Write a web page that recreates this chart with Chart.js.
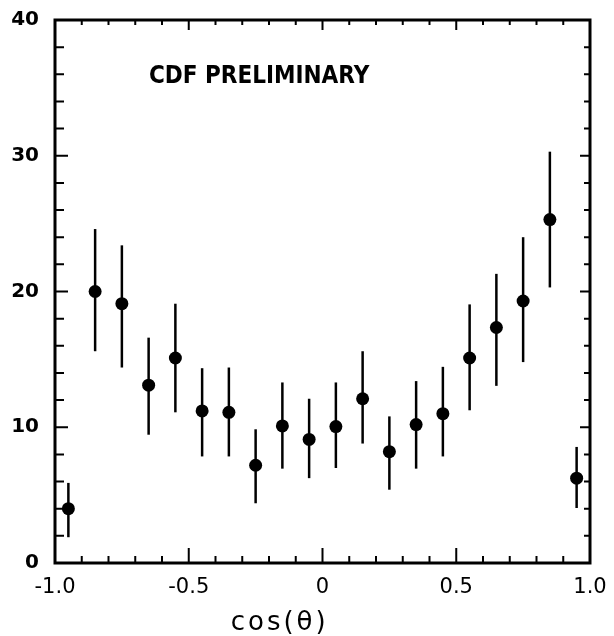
<!DOCTYPE html>
<html>
<head>
<meta charset="utf-8">
<title>CDF cos(theta)</title>
<script src="https://cdn.jsdelivr.net/npm/chart.js@4.4.0/dist/chart.umd.min.js"></script>
<style>
  body { margin: 0; background: #fff; }
  #canvas { display: block; }
</style>
</head>
<body>
<canvas id="canvas" width="614" height="636"></canvas>
<script>
// bin centres in cos(theta)
var binCenters = [-0.95, -0.85, -0.75, -0.65, -0.55, -0.45, -0.35, -0.25, -0.15, -0.05,
                  0.05, 0.15, 0.25, 0.35, 0.45, 0.55, 0.65, 0.75, 0.85, 0.95];
var counts  = [4.0, 20.0, 19.1, 13.1, 15.1, 11.2, 11.1, 7.2, 10.1, 9.1,
               10.05, 12.1, 8.2, 10.2, 11.0, 15.1, 17.35, 19.3, 25.3, 6.25];
var errLow  = [1.9, 15.6, 14.4, 9.45, 11.1, 7.85, 7.85, 4.4, 6.95, 6.25,
               7.0, 8.8, 5.4, 6.95, 7.85, 11.25, 13.05, 14.8, 20.3, 4.05];
var errHigh = [5.9, 24.6, 23.4, 16.6, 19.1, 14.35, 14.4, 9.85, 13.3, 12.1,
               13.3, 15.6, 10.8, 13.4, 14.45, 19.05, 21.3, 24.0, 30.3, 8.55];
var xTickLabels = {"-1": "-1.0", "-0.5": "-0.5", "0": "0", "0.5": "0.5", "1": "1.0"};

var points = binCenters.map(function (x, i) { return {x: x, y: counts[i]}; });

// error bars, inward ticks, frame and the text in the plot
var framePlugin = {
  id: 'frame',
  beforeDatasetsDraw: function (chart) {
    var ctx = chart.ctx, xs = chart.scales.x, ys = chart.scales.y;
    ctx.save();
    ctx.strokeStyle = '#000';
    ctx.lineWidth = 2.5;
    for (var i = 0; i < binCenters.length; i++) {
      var px = xs.getPixelForValue(binCenters[i]);
      ctx.beginPath();
      ctx.moveTo(px, ys.getPixelForValue(errLow[i]));
      ctx.lineTo(px, ys.getPixelForValue(errHigh[i]));
      ctx.stroke();
    }
    ctx.restore();
  },
  afterDraw: function (chart) {
    var ctx = chart.ctx, a = chart.chartArea, xs = chart.scales.x, ys = chart.scales.y;
    ctx.save();
    ctx.strokeStyle = '#000';
    ctx.lineWidth = 2;
    var v, p, len, k;
    // x ticks every 0.1, bottom and top
    for (k = -10; k <= 10; k++) {
      v = k / 10;
      p = xs.getPixelForValue(v);
      len = (k % 5 === 0) ? 15 : 7;
      ctx.beginPath();
      ctx.moveTo(p, a.bottom); ctx.lineTo(p, a.bottom - len);
      ctx.moveTo(p, a.top); ctx.lineTo(p, a.top + ((k % 5 === 0) ? 10 : 5));
      ctx.stroke();
    }
    // y ticks every 2, left and right
    for (k = 0; k <= 20; k++) {
      v = k * 2;
      p = ys.getPixelForValue(v);
      ctx.beginPath();
      ctx.moveTo(a.left, p); ctx.lineTo(a.left + ((v % 10 === 0) ? 13 : 9), p);
      ctx.moveTo(a.right, p); ctx.lineTo(a.right - ((v % 10 === 0) ? 10 : 6), p);
      ctx.stroke();
    }
    ctx.lineWidth = 3;
    ctx.strokeRect(a.left, a.top, a.right - a.left, a.bottom - a.top);

    ctx.fillStyle = '#000';
    ctx.font = 'bold 24px "DejaVu Sans Condensed", "DejaVu Sans"';
    ctx.textBaseline = 'alphabetic';
    ctx.textAlign = 'left';
    ctx.fillText('CDF PRELIMINARY', a.left + 94, a.top + 63);

    ctx.font = '26px "DejaVu Sans"';
    ctx.textAlign = 'center';
    ctx.textBaseline = 'top';
    if ('letterSpacing' in ctx) ctx.letterSpacing = '3px';
    ctx.fillText('cos(\u03B8)', a.left + 0.42 * (a.right - a.left), 610);
    ctx.restore();
  }
};

new Chart(document.getElementById('canvas'), {
  type: 'scatter',
  data: {
    datasets: [{
      data: points,
      pointRadius: 6.5,
      pointHoverRadius: 6.5,
      backgroundColor: '#000',
      borderColor: '#000',
      borderWidth: 0
    }]
  },
  options: {
    responsive: false,
    animation: false,
    devicePixelRatio: 1,
    layout: { padding: { top: 13, right: 24, left: 0, bottom: 0 } },
    plugins: { legend: { display: false }, tooltip: { enabled: false } },
    scales: {
      x: {
        type: 'linear', min: -1, max: 1,
        grid: { display: false }, border: { display: false },
        ticks: {
          stepSize: 0.5, color: '#000', padding: 4,
          font: { family: '"DejaVu Sans"', size: 21 },
          maxRotation: 0, autoSkip: false,
          callback: function (v) { return xTickLabels[String(v)]; }
        },
        afterFit: function (s) { s.height = 73; }
      },
      y: {
        min: 0, max: 40,
        grid: { display: false }, border: { display: false },
        ticks: {
          stepSize: 10, color: '#000', padding: 8,
          font: { family: '"DejaVu Sans"', size: 20, weight: 'bold' }
        },
        afterFit: function (s) { s.width = 55; }
      }
    }
  },
  plugins: [framePlugin]
});
</script>
</body>
</html>
